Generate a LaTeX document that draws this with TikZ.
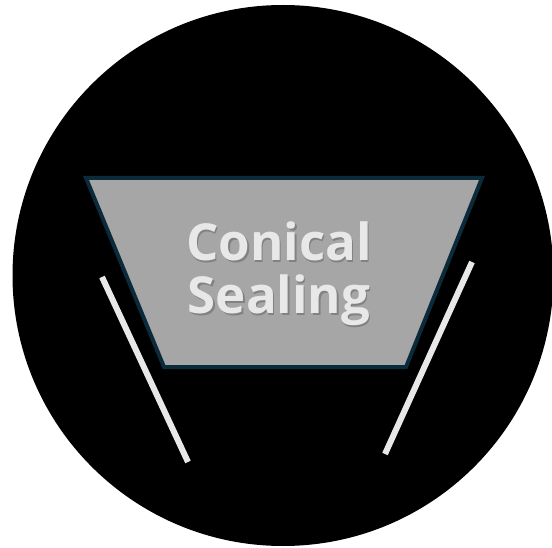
\documentclass[tikz,border=0pt]{standalone}
\usepackage{fontspec}
\setmainfont{Open Sans}
\definecolor{edgeblue}{HTML}{0B2A3A}
\definecolor{fillgray}{HTML}{A6A6A6}
\definecolor{textgray}{HTML}{E8E8E8}
\definecolor{wallgray}{HTML}{E8E8E8}
\begin{document}
\begin{tikzpicture}[x=1pt,y=-1pt,
  wall/.style={draw=wallgray,line width=6pt},
  label/.style={font=\bfseries\fontsize{51}{53}\selectfont,align=center,inner sep=0pt}]
\useasboundingbox (0,0) rectangle (552,548);
\fill[white] (0,0) rectangle (552,548);
\fill[black] (283,275.5) circle[radius=270.5];
\draw[fill=fillgray,draw=edgeblue,line width=4pt,line join=miter]
  (86,178) -- (482,178) -- (406,367) -- (164,367) -- cycle;
\node[label,text=black!55,opacity=0.7] at (280.5,275.5) {Conical\\Sealing};
\node[label,text=textgray] (t) at (279,274) {Conical\\Sealing};
\coordinate (l1) at (102,277); \coordinate (l2) at (188,462);
\coordinate (r1) at (472,262); \coordinate (r2) at (385,454);
\draw[wall] (l1) -- (l2);
\draw[wall] (r1) -- (r2);
\end{tikzpicture}
\end{document}
